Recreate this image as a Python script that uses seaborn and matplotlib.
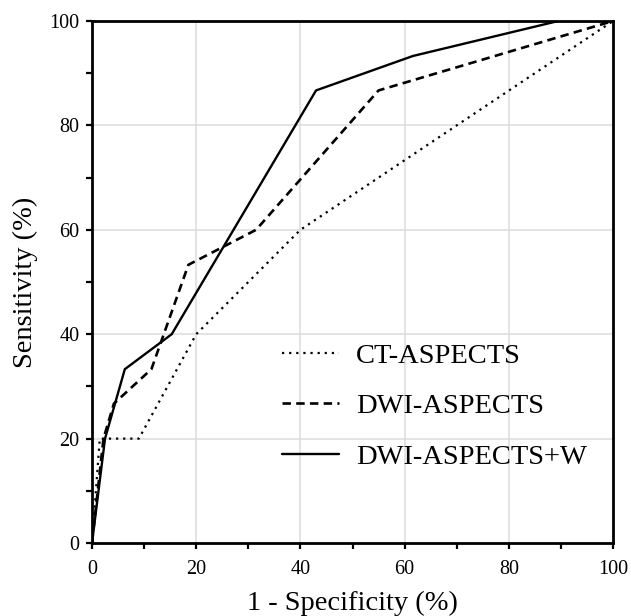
import pandas as pd
import matplotlib
matplotlib.use("Agg")
import matplotlib.pyplot as plt
import seaborn as sns
from matplotlib.ticker import MultipleLocator

# ROC curve points (1 - specificity, sensitivity), in %
ct_fpr = [0, 1.5, 9, 20, 40, 100]
ct_tpr = [0, 20, 20, 40, 60, 100]

dwi_fpr = [0, 2.2, 4.2, 11.4, 18.5, 31.5, 55, 100]
dwi_tpr = [0, 20, 26.7, 33.3, 53.3, 60, 86.7, 100]

dwiw_fpr = [0, 2.5, 6.3, 15.3, 43, 61.6, 89.5, 100]
dwiw_tpr = [0, 20, 33.3, 40, 86.7, 93.3, 100, 100]

labels = ["CT-ASPECTS", "DWI-ASPECTS", "DWI-ASPECTS+W"]

sns.set_theme(style="white")
plt.rcParams["font.family"] = ["Liberation Serif", "DejaVu Serif"]
plt.rcParams["text.color"] = "black"
plt.rcParams["axes.labelcolor"] = "black"
plt.rcParams["xtick.color"] = "black"
plt.rcParams["ytick.color"] = "black"

fig = plt.figure(figsize=(6.31, 6.16), dpi=100)
ax = fig.add_axes([0.1458, 0.1185, 0.8257, 0.8474])

series = [
    (ct_fpr, ct_tpr, labels[0], (0, (1, 2.2)), 1.6),
    (dwi_fpr, dwi_tpr, labels[1], (0, (3.2, 2)), 1.9),
    (dwiw_fpr, dwiw_tpr, labels[2], "-", 1.7),
]
for xs, ys, name, ls, lw in series:
    df = pd.DataFrame({"x": xs, "y": ys})
    sns.lineplot(data=df, x="x", y="y", sort=False, estimator=None, ax=ax,
                 color="black", linestyle=ls, linewidth=lw, label=name)

ax.set_xlim(0, 100)
ax.set_ylim(0, 100)
ax.xaxis.set_major_locator(MultipleLocator(20))
ax.yaxis.set_major_locator(MultipleLocator(20))
ax.xaxis.set_minor_locator(MultipleLocator(10))
ax.yaxis.set_minor_locator(MultipleLocator(10))
ax.grid(True, which="major", color="#dcdcdc", linewidth=1.1)
ax.set_axisbelow(True)

for side in ["left", "bottom", "top", "right"]:
    ax.spines[side].set_visible(True)
    ax.spines[side].set_color("black")
    ax.spines[side].set_linewidth(2.0)

ax.tick_params(which="both", direction="out", length=4, width=1.6, color="black",
               bottom=True, left=True, top=False, right=False)
ax.tick_params(which="major", labelsize=14.5)
ax.tick_params(axis="x", which="major", pad=8)
ax.tick_params(axis="y", which="major", pad=5)

ax.set_xlabel("1 - Specificity (%)", fontsize=20.5, labelpad=9)
ax.set_ylabel("Sensitivity (%)", fontsize=20.5, labelpad=8)

ax.legend(loc="center left", bbox_to_anchor=(0.365, 0.262), frameon=False,
          fontsize=20.5, handlelength=2.0, handletextpad=0.6, labelspacing=0.86,
          borderpad=0, borderaxespad=0)

fig.savefig("out.png", dpi=100)
